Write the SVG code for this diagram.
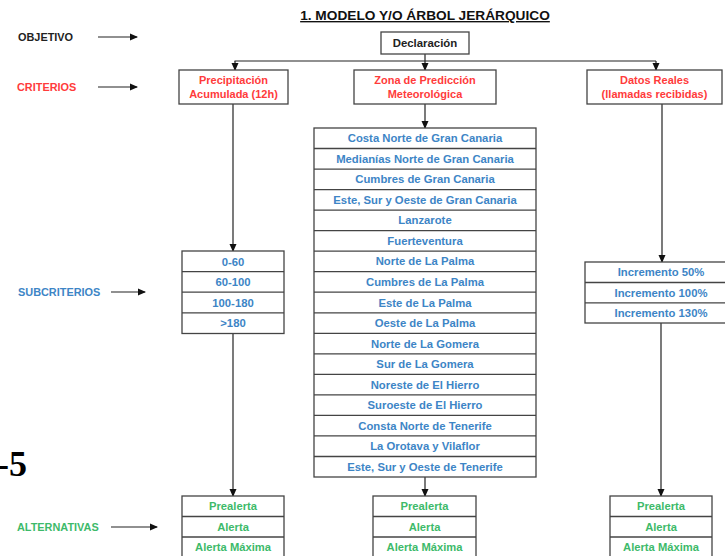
<svg xmlns="http://www.w3.org/2000/svg" width="725" height="556" viewBox="0 0 725 556">
<defs>
<marker id="ah" markerWidth="8" markerHeight="8" refX="7" refY="4" orient="auto" markerUnits="userSpaceOnUse">
<path d="M0,0.5 L8,4 L0,7.5 Z" fill="#111"/>
</marker>
<style>
text{font-family:"Liberation Sans",Arial,sans-serif;font-weight:bold;text-anchor:middle}
.box{fill:#fff;stroke:#444;stroke-width:1.3}
.sep{stroke:#444;stroke-width:1.3}
.ln{fill:none;stroke:#222;stroke-width:1.2}
.lnm{fill:none;stroke:#222;stroke-width:1.2;marker-end:url(#ah)}
.r{fill:#ff3b3b;font-size:11px}
.b{fill:#3d85c6;font-size:11.3px}
.g{fill:#3dba6a;font-size:11.2px}
.k{fill:#222;font-size:11.4px}
.lab{font-size:10.9px;text-anchor:start}
</style>
</defs>
<rect width="725" height="556" fill="#fff"/>
<text x="425" y="20" style="font-size:13.7px;fill:#111;text-decoration:underline">1. MODELO Y/O ÁRBOL JERÁRQUICO</text>
<text x="27" y="476" style="font-family:'Liberation Serif',serif;font-size:36px;fill:#000;text-anchor:end">-5</text>

<g id="labels">
<text x="18" y="41" class="lab" fill="#222">OBJETIVO</text>
<text x="17" y="91" class="lab" fill="#ff3b3b">CRITERIOS</text>
<text x="18" y="296" class="lab" fill="#3d85c6">SUBCRITERIOS</text>
<text x="17" y="531" class="lab" fill="#3dba6a">ALTERNATIVAS</text>
</g>

<g id="connectors">
<line class="lnm" x1="98" y1="37" x2="137" y2="37"/>
<line class="lnm" x1="98" y1="87" x2="137" y2="87"/>
<line class="lnm" x1="111" y1="292" x2="145" y2="292"/>
<line class="lnm" x1="111" y1="527" x2="157" y2="527"/>
<line class="ln" x1="425" y1="54" x2="425" y2="61"/>
<line class="ln" x1="234.5" y1="61" x2="656" y2="61"/>
<line class="lnm" x1="235" y1="61" x2="235" y2="70"/>
<line class="lnm" x1="425" y1="61" x2="425" y2="70"/>
<line class="lnm" x1="656" y1="61" x2="656" y2="70"/>
<line class="lnm" x1="233" y1="104" x2="233" y2="251"/>
<line class="lnm" x1="425" y1="104" x2="425" y2="128"/>
<line class="lnm" x1="662" y1="104" x2="662" y2="262"/>
<line class="lnm" x1="233" y1="334" x2="233" y2="496"/>
<line class="lnm" x1="425" y1="477" x2="425" y2="496"/>
<line class="lnm" x1="661" y1="323" x2="661" y2="496"/>
</g>

<g id="declaracion">
<rect class="box" x="381" y="32" width="88" height="22"/>
<text class="k" x="425" y="47">Declaración</text>
</g>

<g id="precipitacion">
<rect class="box" x="179" y="70" width="109" height="34"/>
<text class="r" x="233.5" y="84">Precipitación</text>
<text class="r" x="233.5" y="98">Acumulada (12h)</text>
</g>

<g id="zona">
<rect class="box" x="354" y="70" width="142" height="34"/>
<text class="r" x="425" y="84">Zona de Predicción</text>
<text class="r" x="425" y="98">Meteorológica</text>
</g>

<g id="datos">
<rect class="box" x="587" y="70" width="135" height="34"/>
<text class="r" x="654.5" y="84">Datos  Reales</text>
<text class="r" x="654.5" y="98">(llamadas recibidas)</text>
</g>

<g id="subcriterios-precipitacion">
<rect class="box" x="182" y="251" width="102" height="82.5"/>
<line class="sep" x1="182" y1="271.6" x2="284" y2="271.6"/>
<line class="sep" x1="182" y1="292.2" x2="284" y2="292.2"/>
<line class="sep" x1="182" y1="312.8" x2="284" y2="312.8"/>
<text class="b" x="233" y="265.5">0-60</text>
<text class="b" x="233" y="286.1">60-100</text>
<text class="b" x="233" y="306.7">100-180</text>
<text class="b" x="233" y="327.3">&gt;180</text>
</g>

<g id="subcriterios-zona">
<rect class="box" x="314" y="128" width="222" height="349"/>
<line class="sep" x1="314" y1="148.5" x2="536" y2="148.5"/>
<line class="sep" x1="314" y1="169.1" x2="536" y2="169.1"/>
<line class="sep" x1="314" y1="189.6" x2="536" y2="189.6"/>
<line class="sep" x1="314" y1="210.1" x2="536" y2="210.1"/>
<line class="sep" x1="314" y1="230.6" x2="536" y2="230.6"/>
<line class="sep" x1="314" y1="251.2" x2="536" y2="251.2"/>
<line class="sep" x1="314" y1="271.7" x2="536" y2="271.7"/>
<line class="sep" x1="314" y1="292.2" x2="536" y2="292.2"/>
<line class="sep" x1="314" y1="312.8" x2="536" y2="312.8"/>
<line class="sep" x1="314" y1="333.3" x2="536" y2="333.3"/>
<line class="sep" x1="314" y1="353.8" x2="536" y2="353.8"/>
<line class="sep" x1="314" y1="374.4" x2="536" y2="374.4"/>
<line class="sep" x1="314" y1="394.9" x2="536" y2="394.9"/>
<line class="sep" x1="314" y1="415.4" x2="536" y2="415.4"/>
<line class="sep" x1="314" y1="435.9" x2="536" y2="435.9"/>
<line class="sep" x1="314" y1="456.5" x2="536" y2="456.5"/>
<text class="b" x="425" y="142.2">Costa  Norte de Gran Canaria</text>
<text class="b" x="425" y="162.8">Medianías Norte de Gran Canaria</text>
<text class="b" x="425" y="183.3">Cumbres de Gran Canaria</text>
<text class="b" x="425" y="203.8">Este,  Sur y Oeste de Gran Canaria</text>
<text class="b" x="425" y="224.4">Lanzarote</text>
<text class="b" x="425" y="244.9">Fuerteventura</text>
<text class="b" x="425" y="265.4">Norte de La Palma</text>
<text class="b" x="425" y="286">Cumbres de La Palma</text>
<text class="b" x="425" y="306.5">Este  de La Palma</text>
<text class="b" x="425" y="327">Oeste de La Palma</text>
<text class="b" x="425" y="347.6">Norte de La Gomera</text>
<text class="b" x="425" y="368.1">Sur de La Gomera</text>
<text class="b" x="425" y="388.6">Noreste  de El Hierro</text>
<text class="b" x="425" y="409.1">Suroeste de El Hierro</text>
<text class="b" x="425" y="429.7">Consta  Norte de Tenerife</text>
<text class="b" x="425" y="450.2">La Orotava y Vilaflor</text>
<text class="b" x="425" y="470.7">Este,  Sur y Oeste  de Tenerife</text>
</g>

<g id="subcriterios-datos">
<rect class="box" x="585" y="262" width="145" height="61"/>
<line class="sep" x1="585" y1="282.5" x2="730" y2="282.5"/>
<line class="sep" x1="585" y1="302.8" x2="730" y2="302.8"/>
<text class="b" x="661" y="276.2">Incremento 50%</text>
<text class="b" x="661" y="296.6">Incremento 100%</text>
<text class="b" x="661" y="316.9">Incremento 130%</text>
</g>

<g id="alternativas-precipitacion">
<rect class="box" x="182" y="496" width="102" height="64"/>
<line class="sep" x1="182" y1="516.5" x2="284" y2="516.5"/>
<line class="sep" x1="182" y1="537" x2="284" y2="537"/>
<text class="g" x="233" y="510.2">Prealerta</text>
<text class="g" x="233" y="530.7">Alerta</text>
<text class="g" x="233" y="551.2">Alerta Máxima</text>
</g>

<g id="alternativas-zona">
<rect class="box" x="373" y="496" width="103" height="64"/>
<line class="sep" x1="373" y1="516.5" x2="476" y2="516.5"/>
<line class="sep" x1="373" y1="537" x2="476" y2="537"/>
<text class="g" x="424.5" y="510.2">Prealerta</text>
<text class="g" x="424.5" y="530.7">Alerta</text>
<text class="g" x="424.5" y="551.2">Alerta Máxima</text>
</g>

<g id="alternativas-datos">
<rect class="box" x="610" y="496" width="102" height="64"/>
<line class="sep" x1="610" y1="516.5" x2="712" y2="516.5"/>
<line class="sep" x1="610" y1="537" x2="712" y2="537"/>
<text class="g" x="661" y="510.2">Prealerta</text>
<text class="g" x="661" y="530.7">Alerta</text>
<text class="g" x="661" y="551.2">Alerta Máxima</text>
</g>
</svg>
